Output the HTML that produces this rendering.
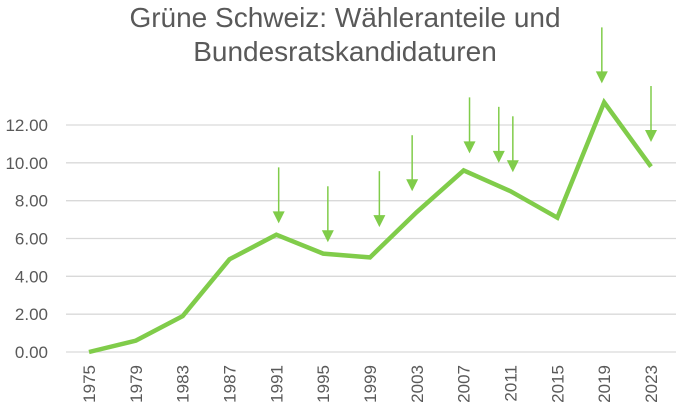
<!DOCTYPE html>
<html><head><meta charset="utf-8"><style>
body{margin:0;background:#fff}
svg{display:block;font-family:"Liberation Sans",sans-serif}
</style></head><body>
<svg width="680" height="412" viewBox="0 0 680 412">
<g id="title" fill="#595959" font-size="28" text-anchor="middle">
<text x="345" y="27">Grüne Schweiz: Wähleranteile und</text>
<text x="345" y="61">Bundesratskandidaturen</text>
</g>
<g id="grid"></g><g id="xlab"></g><g id="line"></g><g id="arrows"></g>
</svg>
<script>
const years=[1975,1979,1983,1987,1991,1995,1999,2003,2007,2011,2015,2019,2023];
const values=[0.0,0.6,1.9,4.9,6.2,5.2,5.0,7.4,9.6,8.5,7.1,13.2,9.8];
const yTicks=[0,2,4,6,8,10,12];
const arrowYears=[1991.2,1995.4,1999.8,2002.6,2007.5,2010,2011.2,2018.8,2023];
const arrowTips=[6.8,5.8,6.6,8.5,10.5,10.0,9.5,14.2,11.1];
const NS="http://www.w3.org/2000/svg";
const x=y=>89+(y-1975)*(651-89)/48;
const yv=v=>352-v*(352-125)/12;
function mk(t,a,p){const e=document.createElementNS(NS,t);for(const k in a)e.setAttribute(k,a[k]);p.appendChild(e);return e;}
const grid=document.getElementById('grid');
yTicks.forEach(v=>{
 const l=mk('line',{x1:66,x2:676,y1:yv(v),y2:yv(v),stroke:'#d9d9d9','stroke-width':1.3},grid);
 
 
 const t=mk('text',{x:48,y:yv(v)+6,'text-anchor':'end','font-size':17,fill:'#595959'},grid);
 t.textContent=v.toFixed(2);
 
 
});
const xl=document.getElementById('xlab');
years.forEach(yr=>{
 const t=mk('text',{transform:`translate(${x(yr)+6},365) rotate(-90)`,'text-anchor':'end','font-size':17,fill:'#595959'},xl);
 t.textContent=yr;
 
 
});
const p=mk('polyline',{points:years.map((yr,i)=>x(yr)+','+yv(values[i])).join(' '),fill:'none',stroke:'#80cc4a','stroke-width':4.5,'stroke-linejoin':'miter'},document.getElementById('line'));


const ag=document.getElementById('arrows');
arrowYears.forEach((yr,i)=>{
 const ax=x(yr),tip=yv(arrowTips[i]);
 const g=mk('g',{},ag);
 
 
 mk('line',{x1:ax,x2:ax,y1:tip-56,y2:tip-8,stroke:'#80cc4a','stroke-width':1.5},g);
 mk('polygon',{points:`${ax-6},${tip-12} ${ax+6},${tip-12} ${ax},${tip}`,fill:'#80cc4a'},g);
});
</script>
</body></html>
